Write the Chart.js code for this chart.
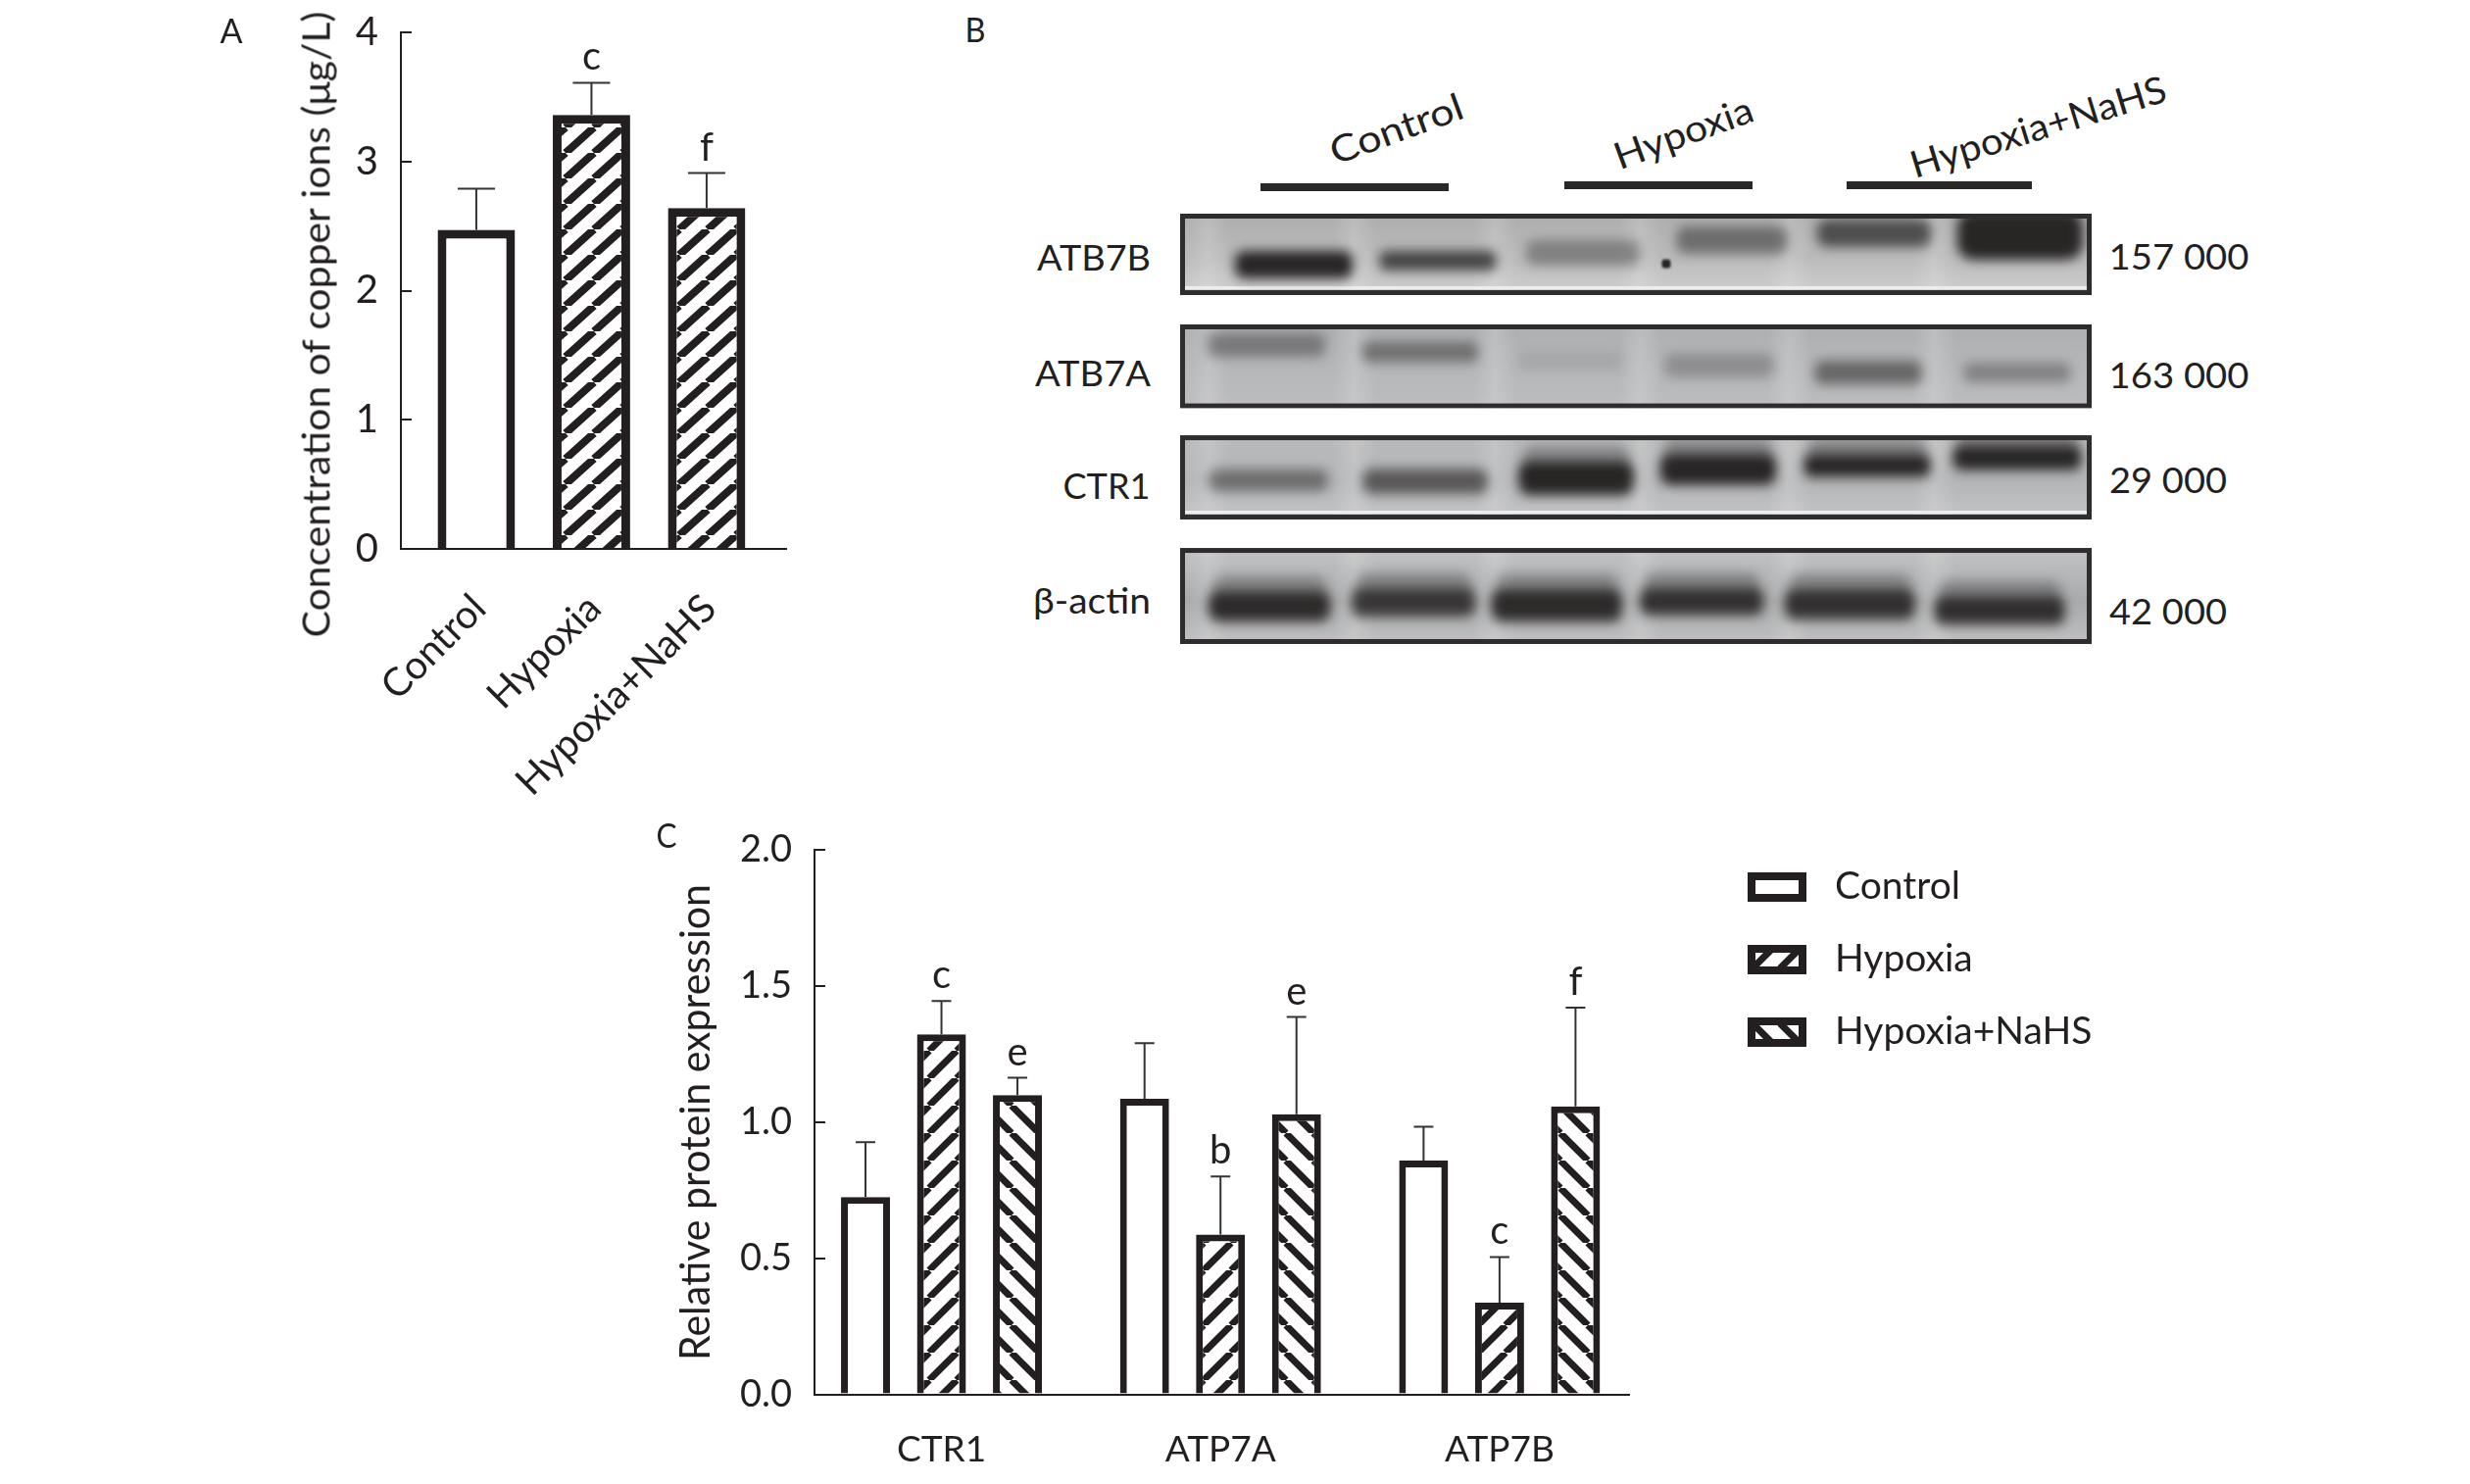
<!DOCTYPE html>
<html>
<head>
<meta charset="utf-8">
<title>Copper transport in hypoxia</title>
<script src="https://cdn.jsdelivr.net/npm/chart.js@4"></script>
<style>
    html, body { margin: 0; background: #fff; }
    #page { position: relative; width: 2520px; height: 1514px; overflow: hidden; }
    #page canvas { position: absolute; }
    .txt { position: absolute; white-space: nowrap; color: #231f20; font-family: Lato, sans-serif; line-height: 1; }
    .rule { position: absolute; background: #2a2728; }
</style>
</head>
<body>
<div id="page">
    <canvas id="chart-a" width="630" height="820" style="left:200px;top:0"></canvas>
    <canvas id="chart-b" width="930" height="439" style="left:1204px;top:218px"></canvas>
    <canvas id="chart-c" width="1560" height="694" style="left:640px;top:820px"></canvas>
</div>
<script>
// panel A
const groupLabels = ['Control', 'Hypoxia', 'Hypoxia+NaHS'];
const copperValues = [2.47, 3.36, 2.64];
const copperErrors = [2.79, 3.61, 2.91];
const copperLetters = ['', 'c', 'f'];
const copperTicks = [0, 1, 2, 3, 4];

// panel C
const proteinLabels = ['CTR1', 'ATP7A', 'ATP7B'];
const controlValues = [0.724, 1.085, 0.858];
const controlErrors = [0.926, 1.289, 0.982];
const controlLetters = ['', '', ''];
const hypoxiaValues = [1.321, 0.587, 0.337];
const hypoxiaErrors = [1.443, 0.80, 0.504];
const hypoxiaLetters = ['c', 'b', 'c'];
const nahsValues = [1.098, 1.028, 1.057];
const nahsErrors = [1.162, 1.385, 1.419];
const nahsLetters = ['e', 'e', 'f'];
const proteinTicks = [0, 0.5, 1, 1.5, 2];

// panel B, lane position / strip position / darkness of each band as read from the blot
const atb7bLane = [0.784, 1.777, 2.777, 3.804, 4.784, 5.79, 3.351];
const atb7bPos = [0.473, 0.436, 0.364, 0.245, 0.182, 0.2, 0.464];
const atb7bDark = [1, 0.8, 0.38, 0.5, 0.72, 1, 1];
const atb7aLane = [0.595, 1.655, 2.696, 3.716, 4.743, 5.77];
const atb7aPos = [1.218, 1.282, 1.364, 1.409, 1.473, 1.473];
const atb7aDark = [0.42, 0.48, 0.1, 0.28, 0.55, 0.36];
const ctr1Lane = [0.608, 1.689, 2.73, 3.709, 4.736, 5.77];
const ctr1Pos = [2.473, 2.482, 2.455, 2.373, 2.336, 2.264];
const ctr1Dark = [0.5, 0.65, 1, 1, 1, 1];
const actinLane = [0.615, 1.608, 2.595, 3.595, 4.615, 5.649];
const actinPos = [3.645, 3.609, 3.636, 3.6, 3.627, 3.682];
const actinDark = [0.95, 0.85, 0.95, 0.9, 0.9, 0.92];
const blotLanes = [atb7bLane, atb7aLane, ctr1Lane, actinLane];
const blotPos = [atb7bPos, atb7aPos, ctr1Pos, actinPos];
const blotDark = [atb7bDark, atb7aDark, ctr1Dark, actinDark];

const INK = '#231f20';
const FONT = 'Lato';
const page = document.getElementById('page');

Chart.defaults.font.family = FONT;
Chart.defaults.color = INK;
Chart.defaults.animation = false;
Chart.defaults.devicePixelRatio = 1;
Chart.defaults.responsive = false;

const measure = document.createElement('canvas').getContext('2d');

// free text, centred on cx,cy. width squeezes it to what the figure has
function addText(text, cx, cy, size, width, angle) {
    const el = document.createElement('div');
    el.className = 'txt';
    el.textContent = text;
    el.style.fontSize = size + 'px';
    el.style.left = cx + 'px';
    el.style.top = cy + 'px';
    measure.font = size + 'px ' + FONT;
    const sx = width ? width / measure.measureText(text).width : 1;
    el.style.transform = 'translate(-50%,-50%) rotate(' + (angle || 0) + 'deg) scaleX(' + sx + ')';
    page.appendChild(el);
}

function addRule(x, y, w, h) {
    const el = document.createElement('div');
    el.className = 'rule';
    el.style.cssText = 'left:' + x + 'px;top:' + y + 'px;width:' + w + 'px;height:' + h + 'px';
    page.appendChild(el);
}

function makeHatch(w, h, thick, back) {
    const tile = document.createElement('canvas');
    tile.width = w;
    tile.height = h;
    const c = tile.getContext('2d');
    c.fillStyle = '#fff';
    c.fillRect(0, 0, w, h);
    c.strokeStyle = INK;
    c.lineWidth = thick;
    for (let i = -1; i <= 1; i++) {
        c.beginPath();
        if (back) {
            c.moveTo(i * w, 0);
            c.lineTo((i + 1) * w, h);
        } else {
            c.moveTo(i * w, h);
            c.lineTo((i + 1) * w, 0);
        }
        c.stroke();
    }
    return c.createPattern(tile, 'repeat');
}

const errorBars = {
    id: 'errorBars',
    afterDatasetsDraw(chart, args, opts) {
        const ctx = chart.ctx;
        const y = chart.scales.y;
        chart.data.datasets.forEach((ds, d) => {
            chart.getDatasetMeta(d).data.forEach((bar, i) => {
                const top = y.getPixelForValue(ds.errors[i]);
                ctx.strokeStyle = '#333';
                ctx.lineWidth = 2;
                ctx.beginPath();
                ctx.moveTo(bar.x, bar.y);
                ctx.lineTo(bar.x, top);
                ctx.moveTo(bar.x - opts.cap, top);
                ctx.lineTo(bar.x + opts.cap, top);
                ctx.stroke();
                if (ds.letters[i]) {
                    ctx.fillStyle = INK;
                    ctx.font = opts.size + 'px ' + FONT;
                    ctx.textAlign = 'center';
                    ctx.textBaseline = 'alphabetic';
                    ctx.fillText(ds.letters[i], bar.x, top - opts.gap);
                }
            });
        });
    }
};

// legend of panel C sits far off the plot, so it is drawn here and not by the built-in one
const hatchLegend = {
    id: 'hatchLegend',
    afterDraw(chart) {
        const ctx = chart.ctx;
        chart.data.datasets.forEach((ds, i) => {
            const top = 70 + i * 74;
            ctx.fillStyle = ds.backgroundColor;
            ctx.fillRect(1143, top, 60, 30);
            ctx.strokeStyle = INK;
            ctx.lineWidth = 8;
            ctx.strokeRect(1147, top + 4, 52, 22);
            ctx.fillStyle = INK;
            ctx.font = '39px ' + FONT;
            ctx.textAlign = 'left';
            ctx.textBaseline = 'middle';
            ctx.fillText(ds.label, 1232, top + 14);
        });
    }
};

function barOptions(labels, ticks, xMin, xMax, yMax, yWidth, xHeight, padding, tickFormat, xTicks, yFont) {
    return {
        layout: { padding: padding, autoPadding: false },
        scales: {
            x: {
                type: 'linear',
                offset: false,
                min: xMin,
                max: xMax,
                afterBuildTicks(scale) { scale.ticks = labels.map((l, i) => ({ value: i })); },
                afterFit(scale) { scale.height = xHeight; },
                grid: { display: false },
                border: { color: INK, width: 2 },
                ticks: Object.assign({ autoSkip: false, callback: v => labels[v] }, xTicks)
            },
            y: {
                min: 0,
                max: yMax,
                afterBuildTicks(scale) { scale.ticks = ticks.map(v => ({ value: v })); },
                afterFit(scale) {
                    // tick padding would otherwise push the top of the plot down
                    scale.width = yWidth;
                    scale.paddingTop = 0;
                    scale.paddingBottom = 0;
                },
                grid: { drawOnChartArea: false, tickLength: -11, color: INK, lineWidth: 2 },
                border: { color: INK, width: 2 },
                ticks: { padding: 34, font: { size: yFont }, callback: tickFormat }
            }
        }
    };
}

const optsA = barOptions(groupLabels, copperTicks, -0.655, 2.69, 4, 209, 260,
    { top: 33, right: 28 }, v => v,
    { padding: 29, labelOffset: 3, font: { size: 40 }, minRotation: 45, maxRotation: 45 }, 40);
optsA.plugins = {
    legend: { display: false },
    tooltip: { enabled: false },
    errorBars: { cap: 19, size: 40, gap: 13 }
};
new Chart(document.getElementById('chart-a'), {
    type: 'bar',
    data: {
        datasets: [{
            data: copperValues.map((v, i) => ({ x: i, y: v })),
            errors: copperErrors,
            letters: copperLetters,
            backgroundColor: ['#fff', makeHatch(29, 26, 8), makeHatch(29, 26, 8)],
            borderColor: INK,
            borderWidth: 9,
            categoryPercentage: 1,
            barPercentage: 0.672
        }]
    },
    options: optsA,
    plugins: [errorBars]
});

const hatchUp = makeHatch(28, 28, 7);
const hatchDown = makeHatch(28, 28, 7, true);
const barStyle = { borderColor: INK, borderWidth: 7, categoryPercentage: 0.8167, barPercentage: 0.645 };
const optsC = barOptions(proteinLabels, proteinTicks, -0.455, 2.464, 2, 191, 91.4,
    { top: 46.5, right: 538 }, v => v.toFixed(1),
    { padding: 26, font: { size: 37 }, maxRotation: 0 }, 38);
optsC.plugins = {
    legend: { display: false },
    tooltip: { enabled: false },
    errorBars: { cap: 10, size: 40, gap: 13 }
};
new Chart(document.getElementById('chart-c'), {
    type: 'bar',
    data: {
        datasets: [
            Object.assign({ label: 'Control', data: controlValues.map((v, i) => ({ x: i, y: v })),
                errors: controlErrors, letters: controlLetters, backgroundColor: '#fff' }, barStyle),
            Object.assign({ label: 'Hypoxia', data: hypoxiaValues.map((v, i) => ({ x: i, y: v })),
                errors: hypoxiaErrors, letters: hypoxiaLetters, backgroundColor: hatchUp }, barStyle),
            Object.assign({ label: 'Hypoxia+NaHS', data: nahsValues.map((v, i) => ({ x: i, y: v })),
                errors: nahsErrors, letters: nahsLetters, backgroundColor: hatchDown }, barStyle)
        ]
    },
    options: optsC,
    plugins: [errorBars, hatchLegend]
});

// panel B, bands are blurred sprites placed by the lane and strip scales
const bandWidths = [[120, 119, 116, 113, 116, 128, 9], [120, 118, 106, 111, 109, 109], [121, 127, 117, 118, 129, 131], [124, 126, 133, 126, 133, 133]];
const bandHeights = [[28, 20, 26, 28, 28, 50, 9], [24, 21, 19, 24, 24, 20], [22, 25, 34, 31, 23, 25], [30, 28, 32, 27, 30, 28]];
const stripEdges = [[0, 0.755], [1.027, 1.805], [2.055, 2.836], [3.1, 3.99]];
const stripShades = [['#adadad', '#bbbbbc', '#d0d0d2'], ['#aeafb1', '#b6b7b9', '#bcbdbf'], ['#b9babb', '#b4b5b7', '#c4c5c7'], ['#c2c3c4', '#a9aaab', '#bfc0c1']];
const laneGaps = [0.19, 1.2, 2.17, 3.17, 4.2, 5.2];

function makeBand(w, h, dark, smear) {
    const pad = 30;
    const tile = document.createElement('canvas');
    tile.width = w + pad * 2;
    tile.height = h + pad * 2;
    const c = tile.getContext('2d');
    c.filter = 'blur(' + (w < 20 ? 1 : 6) + 'px)';
    if (smear) {
        c.fillStyle = 'rgba(50,50,52,0.38)';
        c.beginPath();
        c.roundRect(pad + 4, pad - 16, w - 8, h, 10);
        c.fill();
    }
    c.fillStyle = 'rgba(40,37,37,' + dark + ')';
    c.beginPath();
    c.roundRect(pad, pad, w, h, h / 3);
    c.fill();
    return tile;
}

const blotPoints = [];
const blotSprites = [];
blotLanes.forEach((lanes, r) => {
    lanes.forEach((lane, i) => {
        blotPoints.push({ x: lane, y: blotPos[r][i] });
        blotSprites.push(makeBand(bandWidths[r][i], bandHeights[r][i], blotDark[r][i], r >= 2 && blotDark[r][i] > 0.8));
    });
});

const blotStrips = {
    id: 'blotStrips',
    beforeDatasetsDraw(chart) {
        const ctx = chart.ctx;
        const { left, right } = chart.chartArea;
        stripEdges.forEach((edge, r) => {
            const top = chart.scales.y.getPixelForValue(edge[0]);
            const bottom = chart.scales.y.getPixelForValue(edge[1]);
            const g = ctx.createLinearGradient(0, top, 0, bottom);
            g.addColorStop(0, stripShades[r][0]);
            g.addColorStop(0.55, stripShades[r][1]);
            g.addColorStop(1, stripShades[r][2]);
            ctx.fillStyle = g;
            ctx.fillRect(left, top, right - left, bottom - top);
            // paler gaps between the lanes
            laneGaps.forEach(gap => {
                const x = chart.scales.x.getPixelForValue(gap);
                const l = ctx.createLinearGradient(x - 22, 0, x + 22, 0);
                l.addColorStop(0, 'rgba(255,255,255,0)');
                l.addColorStop(0.5, 'rgba(255,255,255,0.16)');
                l.addColorStop(1, 'rgba(255,255,255,0)');
                ctx.fillStyle = l;
                ctx.fillRect(x - 22, top, 44, bottom - top);
            });
            if (r === 0 || r === 2) {
                ctx.fillStyle = '#eeeeef';
                ctx.fillRect(left, bottom - 9, right - left, 3);
            }
        });
    },
    afterDatasetsDraw(chart) {
        const ctx = chart.ctx;
        const { left, right } = chart.chartArea;
        ctx.fillStyle = '#fff';
        stripEdges.forEach((edge, r) => {
            const top = chart.scales.y.getPixelForValue(edge[0]);
            const bottom = chart.scales.y.getPixelForValue(edge[1]);
            if (r > 0) {
                const prev = chart.scales.y.getPixelForValue(stripEdges[r - 1][1]);
                ctx.fillRect(left, prev, right - left, top - prev);
            }
            ctx.strokeStyle = '#2e2c2d';
            ctx.lineWidth = 5;
            ctx.strokeRect(left + 2.5, top + 2.5, right - left - 5, bottom - top - 5);
        });
    }
};

new Chart(document.getElementById('chart-b'), {
    type: 'scatter',
    data: {
        datasets: [{
            data: blotPoints,
            pointStyle: ctx => blotSprites[ctx.dataIndex],
            pointRadius: 10
        }]
    },
    options: {
        layout: { autoPadding: false },
        plugins: { legend: { display: false }, tooltip: { enabled: false } },
        scales: {
            x: { display: false, min: 0, max: 6.284 },
            y: { display: false, min: 0, max: 3.99, reverse: true }
        }
    },
    plugins: [blotStrips]
});

// panel letters and titles
addText('A', 236, 31, 34);
addText('B', 995, 30, 34, 21);
addText('C', 680, 852, 34, 21);
addText('Concentration of copper ions (μg/L)', 322, 331, 39, 640, -90);
addText('Relative protein expression', 708, 1145, 42, 486, -90);

// panel B labels
addText('Control', 1424, 130, 38, 142, -20);
addText('Hypoxia', 1717, 134, 38, 148, -20);
addText('Hypoxia+NaHS', 2079, 128, 38, 271, -17);
addRule(1286, 187, 192, 8);
addRule(1596, 185, 192, 8);
addRule(1884, 185, 189, 8);

addText('ATB7B', 1116, 261, 37, 116);
addText('ATB7A', 1115, 379, 37, 118);
addText('CTR1', 1129, 494, 37, 89);
addText('β-actin', 1114, 611, 37, 120);
addText('157 000', 2223, 260, 37, 143);
addText('163 000', 2223, 381, 37, 143);
addText('29 000', 2212, 488, 37, 120);
addText('42 000', 2212, 622, 37, 120);
</script>
</body>
</html>
